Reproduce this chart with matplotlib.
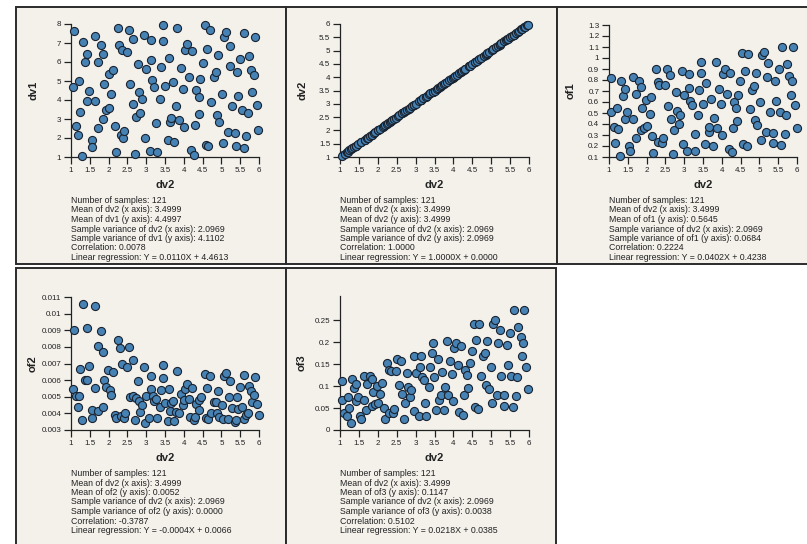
import matplotlib
matplotlib.use('Agg')
import matplotlib.pyplot as plt
import matplotlib.patches as patches
from matplotlib.ticker import FixedLocator, FuncFormatter

plt.rcParams['font.family'] = ['Liberation Sans', 'DejaVu Sans']

# ---- data ----
# panel 1: dv2 (x) vs dv1 (y)
p1_x = [1.08, 1.05, 1.13, 1.18, 1.20, 1.25, 1.30, 1.32, 1.38, 1.43, 1.43, 1.48, 1.55, 1.56, 1.65, 1.65,
        1.72, 1.73, 1.79, 1.84, 1.84, 1.89, 1.93, 2.00, 2.00, 2.07, 2.13, 2.16, 2.19, 2.24, 2.28, 2.32,
        2.35, 2.38, 2.42, 2.48, 2.53, 2.57, 2.64, 2.64, 2.69, 2.72, 2.78, 2.82, 2.84, 2.90, 2.95, 2.96,
        3.00, 3.09, 3.13, 3.13, 3.15, 3.20, 3.27, 3.29, 3.36, 3.39, 3.45, 3.45, 3.50, 3.57, 3.60, 3.64,
        3.66, 3.70, 3.75, 3.79, 3.83, 3.88, 3.93, 3.98, 4.01, 4.03, 4.09, 4.14, 4.19, 4.22, 4.27, 4.31,
        4.32, 4.41, 4.41, 4.43, 4.50, 4.56, 4.58, 4.65, 4.62, 4.69, 4.73, 4.81, 4.85, 4.88, 4.90, 4.93,
        5.02, 5.05, 5.06, 5.12, 5.17, 5.22, 5.23, 5.27, 5.35, 5.38, 5.42, 5.45, 5.50, 5.56, 5.59, 5.60,
        5.66, 5.70, 5.73, 5.80, 5.81, 5.88, 5.89, 5.95, 5.98]
p1_y = [7.61, 4.68, 2.65, 2.14, 4.98, 3.39, 1.07, 7.05, 6.02, 6.40, 3.96, 4.49, 1.88, 1.53, 7.39, 3.96,
        2.51, 5.98, 6.89, 6.44, 3.00, 4.86, 3.49, 3.56, 5.39, 4.30, 5.60, 2.61, 1.25, 7.81, 6.88, 2.16,
        6.65, 2.00, 2.37, 6.51, 7.70, 4.82, 7.21, 3.77, 1.14, 3.11, 5.88, 4.40, 3.33, 4.07, 7.42, 1.98,
        5.61, 1.32, 7.18, 6.09, 5.07, 4.68, 2.79, 1.26, 4.04, 5.75, 7.93, 7.09, 4.75, 1.91, 6.21, 2.82,
        3.04, 4.96, 1.77, 3.70, 7.77, 2.93, 5.70, 4.58, 2.56, 6.65, 6.96, 5.21, 1.39, 6.60, 1.11, 2.68,
        4.54, 4.16, 3.25, 5.12, 5.95, 7.93, 1.65, 1.60, 6.70, 7.70, 3.88, 5.21, 5.46, 3.23, 6.37, 2.82,
        4.30, 1.74, 7.32, 7.56, 2.30, 5.81, 6.82, 3.67, 2.26, 1.60, 5.46, 4.19, 6.16, 3.49, 1.46, 7.53,
        2.09, 3.32, 6.30, 5.60, 4.44, 5.32, 7.30, 3.74, 2.44]

# panel 2: dv2 against itself
p2_x = p1_x
p2_y = p1_x

# panel 3: dv2 (x) vs of1 (y)
p3_x = [1.06, 1.04, 1.12, 1.17, 1.20, 1.23, 1.29, 1.31, 1.38, 1.43, 1.43, 1.48, 1.54, 1.56, 1.64, 1.64,
        1.72, 1.73, 1.79, 1.84, 1.84, 1.89, 1.93, 2.00, 1.98, 2.08, 2.13, 2.15, 2.18, 2.24, 2.29, 2.30,
        2.34, 2.41, 2.44, 2.48, 2.54, 2.58, 2.64, 2.63, 2.69, 2.72, 2.77, 2.82, 2.86, 2.90, 2.95, 2.97,
        3.00, 3.08, 3.14, 3.14, 3.16, 3.21, 3.28, 3.29, 3.37, 3.39, 3.45, 3.44, 3.50, 3.56, 3.59, 3.65,
        3.66, 3.70, 3.76, 3.79, 3.84, 3.88, 3.93, 3.98, 4.01, 4.03, 4.09, 4.14, 4.18, 4.23, 4.27, 4.30,
        4.32, 4.39, 4.40, 4.44, 4.48, 4.55, 4.57, 4.63, 4.66, 4.69, 4.74, 4.80, 4.86, 4.87, 4.90, 4.94,
        5.01, 5.03, 5.07, 5.11, 5.17, 5.20, 5.23, 5.27, 5.35, 5.37, 5.41, 5.45, 5.51, 5.55, 5.58, 5.61,
        5.67, 5.71, 5.73, 5.80, 5.85, 5.87, 5.89, 5.95, 6.00]
p3_y = [0.817, 0.51, 0.374, 0.228, 0.541, 0.355, 0.106, 0.787, 0.659, 0.72, 0.447, 0.507, 0.203, 0.158,
        0.823, 0.443, 0.276, 0.677, 0.787, 0.732, 0.343, 0.547, 0.367, 0.38, 0.617, 0.495, 0.644, 0.288,
        0.133, 0.896, 0.784, 0.24, 0.757, 0.228, 0.273, 0.753, 0.896, 0.562, 0.45, 0.848, 0.124, 0.343,
        0.693, 0.516, 0.398, 0.48, 0.88, 0.222, 0.668, 0.155, 0.854, 0.729, 0.61, 0.574, 0.313, 0.155,
        0.48, 0.708, 0.963, 0.866, 0.586, 0.222, 0.775, 0.328, 0.374, 0.623, 0.203, 0.459, 0.963, 0.367,
        0.714, 0.58, 0.298, 0.854, 0.896, 0.671, 0.176, 0.863, 0.146, 0.361, 0.602, 0.544, 0.428, 0.668,
        0.787, 1.048, 0.222, 0.884, 0.2, 1.033, 0.532, 0.708, 0.744, 0.434, 0.866, 0.395, 0.602, 0.252,
        1.027, 1.051, 0.328, 0.823, 0.951, 0.51, 0.322, 0.228, 0.793, 0.61, 0.896, 0.51, 0.206, 1.103,
        0.307, 0.486, 0.945, 0.836, 0.668, 0.793, 1.097, 0.571, 0.367]

# panel 4: dv2 (x) vs of2 (y)
p4_x = [1.04, 1.08, 1.12, 1.18, 1.20, 1.24, 1.30, 1.32, 1.38, 1.43, 1.43, 1.49, 1.55, 1.56, 1.65, 1.65,
        1.72, 1.73, 1.79, 1.84, 1.86, 1.89, 1.93, 1.98, 2.04, 2.07, 2.13, 2.16, 2.19, 2.24, 2.29, 2.32,
        2.35, 2.40, 2.43, 2.48, 2.53, 2.57, 2.64, 2.65, 2.69, 2.72, 2.78, 2.81, 2.84, 2.90, 2.95, 2.96,
        3.00, 3.07, 3.13, 3.13, 3.17, 3.20, 3.27, 3.29, 3.36, 3.39, 3.45, 3.45, 3.51, 3.57, 3.60, 3.64,
        3.66, 3.70, 3.75, 3.79, 3.83, 3.88, 3.93, 3.98, 4.01, 4.04, 4.09, 4.14, 4.17, 4.22, 4.27, 4.31,
        4.32, 4.41, 4.41, 4.46, 4.56, 4.58, 4.61, 4.65, 4.69, 4.73, 4.81, 4.85, 4.88, 4.90, 4.94, 5.02,
        5.05, 5.08, 5.12, 5.17, 5.20, 5.23, 5.27, 5.35, 5.38, 5.42, 5.45, 5.50, 5.56, 5.59, 5.61, 5.66,
        5.70, 5.73, 5.80, 5.82, 5.86, 5.89, 5.95, 5.99]
p4_y = [0.00548, 0.009, 0.00504, 0.0044, 0.00504, 0.00664, 0.0036, 0.01056, 0.006, 0.00916, 0.006,
        0.00684, 0.00374, 0.0042, 0.01048, 0.0055, 0.00412, 0.00808, 0.00896, 0.00436, 0.00768, 0.006,
        0.00556, 0.0066, 0.0054, 0.00512, 0.0065, 0.00392, 0.00372, 0.0084, 0.00796, 0.00384, 0.00696,
        0.00372, 0.004, 0.0068, 0.008, 0.005, 0.0072, 0.00504, 0.0036, 0.0049, 0.00596, 0.00472, 0.00408,
        0.00452, 0.00676, 0.0034, 0.00504, 0.00372, 0.00624, 0.00544, 0.00504, 0.00472, 0.00484, 0.00374,
        0.00436, 0.0054, 0.00688, 0.00614, 0.0046, 0.00354, 0.00544, 0.00412, 0.00464, 0.00472, 0.00356,
        0.00408, 0.00652, 0.00404, 0.00516, 0.00452, 0.0048, 0.00548, 0.00574, 0.00484, 0.0038, 0.0055,
        0.0036, 0.0038, 0.00456, 0.0042, 0.0048, 0.005, 0.00636, 0.0037, 0.0055, 0.00368, 0.00624, 0.00404,
        0.00468, 0.00468, 0.004, 0.00536, 0.0038, 0.00448, 0.00368, 0.00624, 0.0064, 0.00364, 0.005,
        0.00596, 0.00432, 0.0035, 0.0036, 0.005, 0.00428, 0.0056, 0.00436, 0.00368, 0.00628, 0.00388,
        0.00404, 0.00564, 0.00532, 0.00468, 0.00508, 0.0062, 0.00456, 0.00388]

# panel 5: dv2 (x) vs of3 (y)
p5_x = [1.06, 1.04, 1.11, 1.18, 1.20, 1.24, 1.29, 1.31, 1.37, 1.42, 1.42, 1.48, 1.54, 1.55, 1.63, 1.63,
        1.70, 1.72, 1.79, 1.85, 1.84, 1.88, 1.93, 1.99, 2.00, 2.06, 2.12, 2.16, 2.19, 2.24, 2.29, 2.30,
        2.36, 2.40, 2.43, 2.48, 2.52, 2.57, 2.62, 2.64, 2.69, 2.72, 2.77, 2.81, 2.84, 2.89, 2.95, 2.96,
        3.00, 3.08, 3.13, 3.12, 3.16, 3.21, 3.26, 3.28, 3.36, 3.39, 3.44, 3.45, 3.49, 3.55, 3.58, 3.63,
        3.66, 3.70, 3.74, 3.77, 3.83, 3.87, 3.91, 3.97, 4.00, 4.02, 4.07, 4.13, 4.16, 4.20, 4.26, 4.28,
        4.31, 4.37, 4.38, 4.43, 4.48, 4.54, 4.56, 4.61, 4.65, 4.68, 4.73, 4.79, 4.84, 4.86, 4.89, 4.93,
        5.00, 5.02, 5.06, 5.10, 5.15, 5.19, 5.22, 5.25, 5.34, 5.35, 5.42, 5.45, 5.49, 5.53, 5.57, 5.59,
        5.66, 5.69, 5.72, 5.79, 5.82, 5.85, 5.88, 5.93, 5.98]
p5_y = [0.111, 0.068, 0.039, 0.032, 0.074, 0.049, 0.015, 0.115, 0.095, 0.104, 0.065, 0.076, 0.033, 0.024,
        0.124, 0.068, 0.045, 0.105, 0.123, 0.115, 0.055, 0.086, 0.059, 0.1, 0.061, 0.083, 0.108, 0.05,
        0.024, 0.153, 0.136, 0.039, 0.135, 0.038, 0.048, 0.135, 0.161, 0.102, 0.156, 0.083, 0.026, 0.062,
        0.129, 0.097, 0.074, 0.092, 0.168, 0.044, 0.13, 0.032, 0.168, 0.144, 0.12, 0.114, 0.062, 0.032,
        0.098, 0.144, 0.176, 0.197, 0.121, 0.045, 0.161, 0.068, 0.079, 0.131, 0.045, 0.098, 0.203, 0.079,
        0.156, 0.127, 0.067, 0.186, 0.197, 0.148, 0.04, 0.192, 0.034, 0.08, 0.136, 0.125, 0.096, 0.153,
        0.18, 0.241, 0.053, 0.205, 0.047, 0.241, 0.123, 0.168, 0.176, 0.102, 0.203, 0.094, 0.144, 0.061,
        0.242, 0.25, 0.079, 0.197, 0.227, 0.124, 0.079, 0.055, 0.193, 0.148, 0.22, 0.124, 0.053, 0.273,
        0.077, 0.121, 0.235, 0.211, 0.168, 0.198, 0.274, 0.144, 0.094]

x_ticks = [1, 1.5, 2, 2.5, 3, 3.5, 4, 4.5, 5, 5.5, 6]
p1_yticks = [1, 2, 3, 4, 5, 6, 7, 8]
p2_yticks = [1, 1.5, 2, 2.5, 3, 3.5, 4, 4.5, 5, 5.5, 6]
p3_yticks = [0.1, 0.2, 0.3, 0.4, 0.5, 0.6, 0.7, 0.8, 0.9, 1, 1.1, 1.2, 1.3]
p4_yticks = [0.003, 0.004, 0.005, 0.006, 0.007, 0.008, 0.009, 0.01, 0.011]
p5_yticks = [0, 0.05, 0.1, 0.15, 0.2, 0.25]

p1_stats = ['Number of samples: 121', 'Mean of dv2 (x axis): 3.4999', 'Mean of dv1 (y axis): 4.4997',
            'Sample variance of dv2 (x axis): 2.0969', 'Sample variance of dv1 (y axis): 4.1102',
            'Correlation: 0.0078', 'Linear regression: Y = 0.0110X + 4.4613']
p2_stats = ['Number of samples: 121', 'Mean of dv2 (x axis): 3.4999', 'Mean of dv2 (y axis): 3.4999',
            'Sample variance of dv2 (x axis): 2.0969', 'Sample variance of dv2 (y axis): 2.0969',
            'Correlation: 1.0000', 'Linear regression: Y = 1.0000X + 0.0000']
p3_stats = ['Number of samples: 121', 'Mean of dv2 (x axis): 3.4999', 'Mean of of1 (y axis): 0.5645',
            'Sample variance of dv2 (x axis): 2.0969', 'Sample variance of of1 (y axis): 0.0684',
            'Correlation: 0.2224', 'Linear regression: Y = 0.0402X + 0.4238']
p4_stats = ['Number of samples: 121', 'Mean of dv2 (x axis): 3.4999', 'Mean of of2 (y axis): 0.0052',
            'Sample variance of dv2 (x axis): 2.0969', 'Sample variance of of2 (y axis): 0.0000',
            'Correlation: -0.3787', 'Linear regression: Y = -0.0004X + 0.0066']
p5_stats = ['Number of samples: 121', 'Mean of dv2 (x axis): 3.4999', 'Mean of of3 (y axis): 0.1147',
            'Sample variance of dv2 (x axis): 2.0969', 'Sample variance of of3 (y axis): 0.0038',
            'Correlation: 0.5102', 'Linear regression: Y = 0.0218X + 0.0385']

W, H = 807, 544
fig = plt.figure(figsize=(W / 100, H / 100), dpi=100)
fig.patch.set_facecolor('white')


def box(x0, y0, x1, y1):
    # pixel box (top-left origin) -> figure fraction
    return [x0 / W, 1 - y1 / H, (x1 - x0) / W, (y1 - y0) / H]


# panel frames
for (x0, y0, x1, y1) in [(16, 7, 286, 264), (286, 7, 557, 264), (557, 7, 812, 264),
                         (16, 268, 286, 550), (286, 268, 556, 550)]:
    fig.add_artist(patches.Rectangle((x0 / W, 1 - y1 / H), (x1 - x0) / W, (y1 - y0) / H,
                                     transform=fig.transFigure, facecolor='#f4f1eb',
                                     edgecolor='#2b2b2b', lw=1.4, zorder=0))


def fmt(v, pos):
    return f'{round(v, 4):g}'


def panel(px, xs, ys, ylabel, yticks, ylim, stats):
    x0, y0, x1, y1 = px
    ax = fig.add_axes(box(x0, y0, x1, y1))
    ax.set_facecolor('none')
    ax.scatter(xs, ys, s=34, color='#4682b4', edgecolors='#1a2330', linewidths=0.8,
               clip_on=False, zorder=3)
    ax.set_xlim(1, 6)
    ax.set_ylim(*ylim)
    ax.xaxis.set_major_locator(FixedLocator(x_ticks))
    ax.yaxis.set_major_locator(FixedLocator(yticks))
    ax.xaxis.set_major_formatter(FuncFormatter(fmt))
    ax.yaxis.set_major_formatter(FuncFormatter(fmt))
    for s in ['top', 'right']:
        ax.spines[s].set_visible(False)
    for s in ['left', 'bottom']:
        ax.spines[s].set_color('#222222')
        ax.spines[s].set_linewidth(0.9)
    ax.tick_params(direction='out', length=5, width=0.9, labelsize=5.8, pad=2,
                   colors='#222222')
    h = y1 - y0
    w = x1 - x0
    ax.set_xlabel('dv2', fontsize=8, fontweight='bold', color='#222222')
    ax.xaxis.set_label_coords(0.5, -28 / h)
    ax.xaxis.label.set_va('center')
    ax.set_ylabel(ylabel, fontsize=8, fontweight='bold', color='#222222')
    ax.yaxis.set_label_coords(-38 / w, 0.5)
    ax.yaxis.label.set_va('center')
    for i, line in enumerate(stats):
        fig.text(x0 / W, 1 - (y1 + 43.5 + i * 9.5) / H, line, fontsize=6.3,
                 color='#222222', va='center', ha='left')


panel((71, 24, 259, 157), p1_x, p1_y, 'dv1', p1_yticks, (1, 8), p1_stats)
panel((340, 24, 529, 157), p2_x, p2_y, 'dv2', p2_yticks, (1, 6), p2_stats)
panel((609, 25, 797, 157), p3_x, p3_y, 'of1', p3_yticks, (0.1, 1.3), p3_stats)
panel((71, 297, 259, 430), p4_x, p4_y, 'of2', p4_yticks, (0.003, 0.011), p4_stats)
panel((340, 296, 529, 430), p5_x, p5_y, 'of3', p5_yticks, (0, 0.305), p5_stats)

fig.savefig('out.png', dpi=100, facecolor='white')
